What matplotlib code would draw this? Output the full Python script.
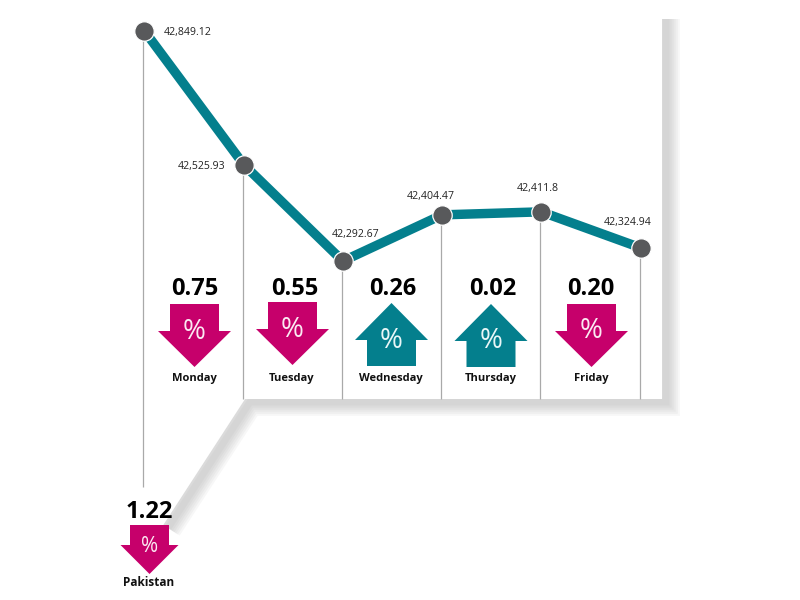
import matplotlib
matplotlib.use("Agg")
import matplotlib.pyplot as plt
from matplotlib.patches import Polygon

plt.rcParams['font.family'] = ['Open Sans', 'DejaVu Sans']

days = ["Monday", "Tuesday", "Wednesday", "Thursday", "Friday"]
index_values = [42849.12, 42525.93, 42292.67, 42404.47, 42411.8, 42324.94]
index_labels = ["42,849.12", "42,525.93", "42,292.67", "42,404.47", "42,411.8", "42,324.94"]
pct_changes = [0.75, 0.55, 0.26, 0.02, 0.20]
pct_dirs = ["down", "down", "up", "up", "down"]
region = "Pakistan"
region_change = 1.22
region_dir = "down"

TEAL = "#047f8d"
MAGENTA = "#c6006b"
GREY = "#58595b"
TXT = "#111111"

fig = plt.figure(figsize=(8, 6), dpi=100, facecolor="white")

# pixel overlay used for the decorative panel, arrows and annotations
px = fig.add_axes([0, 0, 1, 1], zorder=1)
px.set_xlim(0, 800)
px.set_ylim(600, 0)
px.axis("off")

# shadow band: blurred by stacking widening translucent strokes
sx = [666, 666, 250, 168]
sy = [18, 402, 402, 528]
for lw in [20, 17, 14, 11, 8, 5]:
    px.plot(sx, sy, color="#909090", lw=lw, alpha=.07, solid_joinstyle="miter",
            solid_capstyle="butt", zorder=1)
px.add_patch(Polygon([(0, 0), (662, 0), (662, 399), (245, 399), (160, 530), (0, 530)],
                     closed=True, fc="white", ec="none", zorder=2))
px.add_patch(Polygon([(662, 0), (800, 0), (800, 19), (662, 19)],
                     closed=True, fc="white", ec="none", zorder=2))


def arrow(cx, top, direction, color, half_head, half_shaft, head_len, total, size, ty):
    if direction == "down":
        wing = top + total - head_len
        pts = [(cx - half_shaft, top), (cx + half_shaft, top), (cx + half_shaft, wing),
               (cx + half_head, wing), (cx, top + total), (cx - half_head, wing),
               (cx - half_shaft, wing)]
    else:
        wing = top + head_len
        pts = [(cx, top), (cx + half_head, wing), (cx + half_shaft, wing),
               (cx + half_shaft, top + total), (cx - half_shaft, top + total),
               (cx - half_shaft, wing), (cx - half_head, wing)]
    px.add_patch(Polygon(pts, closed=True, fc=color, ec="none", zorder=4))
    px.text(cx, ty, "%", color="#fbe9f2" if direction == "down" else "#e8f6f7",
            fontsize=size, fontweight="normal", ha="center", va="center", zorder=5)


arrow_x = [194.5, 292.5, 391.5, 491, 591.5]
arrow_top = [304, 302, 303, 304, 304]
num_x = [195, 295, 393, 493, 591]
pct_y = [332, 330, 341, 341, 331]
for d, v, dr, ax_, top, nx, py in zip(days, pct_changes, pct_dirs, arrow_x, arrow_top, num_x, pct_y):
    px.text(nx, 289, f"{v:.2f}", fontsize=17, fontweight="bold", color="black",
            ha="center", va="center", zorder=6)
    arrow(ax_, top, dr, MAGENTA if dr == "down" else TEAL, 36.5, 24.5, 36 if dr == "down" else 37, 63, 20, py)
    px.text(ax_ - 0.5, 378, d, fontsize=8, fontweight="bold", color=TXT,
            ha="center", va="center", zorder=6)

px.text(149, 512, f"{region_change:.2f}", fontsize=17, fontweight="bold", color="black",
        ha="center", va="center", zorder=6)
arrow(149.5, 525, region_dir, MAGENTA, 29, 19.5, 29, 49, 15, 546)
px.text(149, 583, region, fontsize=8.5, fontweight="bold", color=TXT,
        ha="center", va="center", zorder=6)

# data axes: full figure, value scale calibrated so the points land on the picture
ax = fig.add_axes([0, 0, 1, 1], zorder=2)
ax.patch.set_alpha(0)
ax.axis("off")
x0, dx = 144.5, 99.2
slope = 0.4135
ax.set_xlim(-x0 / dx, (800 - x0) / dx)
top_v = index_values[0] + 31 / slope
ax.set_ylim(top_v - 600 / slope, top_v)
xs = list(range(len(index_values)))

# stems: the first runs down to the region arrow, the others to the panel floor
floor_v = top_v - 399 / slope
long_v = top_v - 487 / slope
ax.vlines(xs[0] - 0.015, long_v, index_values[0], color="#a9a9a9", lw=0.9, zorder=1)
ax.vlines([x - 0.01 for x in xs[1:]], floor_v, index_values[1:], color="#a9a9a9", lw=0.9, zorder=1)

ax.plot(xs, index_values, color=TEAL, lw=6.8, solid_capstyle="butt",
        solid_joinstyle="miter", zorder=2)
ax.plot(xs, index_values, ls="none", marker="o", ms=14, mfc=GREY, mec="white",
        mew=0.9, zorder=3)

label_pos = [(188, 32), (202, 167), (356, 235), (431, 197), (538, 188), (628, 222)]
for (lx, ly), t in zip(label_pos, index_labels):
    px.text(lx, ly, t, fontsize=7.6, color="#222222", ha="center", va="center", zorder=6)

fig.savefig("out.png", dpi=100)
